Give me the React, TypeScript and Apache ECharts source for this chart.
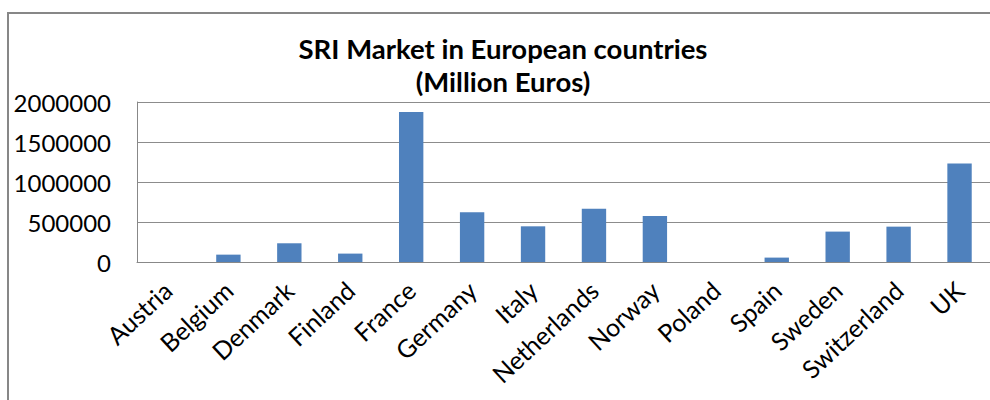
import React, { useEffect, useRef } from "react";
import * as echarts from "echarts";

const categories = [
  "Austria", "Belgium", "Denmark", "Finland", "France", "Germany", "Italy",
  "Netherlands", "Norway", "Poland", "Spain", "Sweden", "Switzerland", "UK",
];
const sriValues = [
  0, 92000, 234000, 105000, 1875000, 621000, 446000,
  667000, 575000, 0, 55000, 380000, 442000, 1230000,
];
const titleLines = ["SRI Market in European countries", "(Million Euros)"];
const yTicks = { min: 0, max: 2000000, interval: 500000 };

export default function App() {
  const ref = useRef<HTMLDivElement>(null);
  useEffect(() => {
    if (!ref.current) return;
    const chart = echarts.init(ref.current, undefined, { renderer: "svg" });
    const font = "Lato";
    chart.setOption({
      animation: false,
      backgroundColor: "#ffffff",
      graphic: [
        {
          type: "rect",
          shape: { x: 8, y: 13, width: 1100, height: 500 },
          style: { fill: "none", stroke: "#878787", lineWidth: 2 },
          silent: true,
          z: -1,
        },
        {
          type: "text",
          x: 503,
          y: 48,
          style: {
            text: titleLines[0],
            fontFamily: font,
            fontWeight: "bold",
            fontSize: 27.5,
            fill: "#000",
            align: "center",
            verticalAlign: "middle",
          },
        },
        {
          type: "text",
          x: 503,
          y: 81,
          style: {
            text: titleLines[1],
            fontFamily: font,
            fontWeight: "bold",
            fontSize: 27.5,
            fill: "#000",
            align: "center",
            verticalAlign: "middle",
          },
        },
      ],
      grid: { left: 137, top: 102, right: -8, bottom: 138, containLabel: false },
      xAxis: {
        type: "category",
        data: categories,
        axisLine: { show: true, lineStyle: { color: "#888", width: 1 } },
        axisTick: { show: false },
        axisLabel: {
          rotate: 43,
          interval: 0,
          margin: 24,
          fontFamily: font,
          fontSize: 25,
          color: "#000",
        },
      },
      yAxis: {
        type: "value",
        min: yTicks.min,
        max: yTicks.max,
        interval: yTicks.interval,
        axisLine: { show: true, lineStyle: { color: "#888", width: 1 } },
        axisTick: { show: false },
        splitLine: { show: true, lineStyle: { color: "#8c8c8c", width: 1 } },
        axisLabel: {
          margin: 26,
          fontFamily: font,
          fontSize: 24,
          color: "#000",
          formatter: (v: number) => String(v),
        },
      },
      series: [
        {
          type: "bar",
          data: sriValues,
          barWidth: "40%",
          itemStyle: { color: "#4F81BD" },
        },
      ],
    });
    return () => chart.dispose();
  }, []);
  return (
    <div
      ref={ref}
      style={{ position: "fixed", left: 0, top: 0, width: 990, height: 400 }}
    />
  );
}
